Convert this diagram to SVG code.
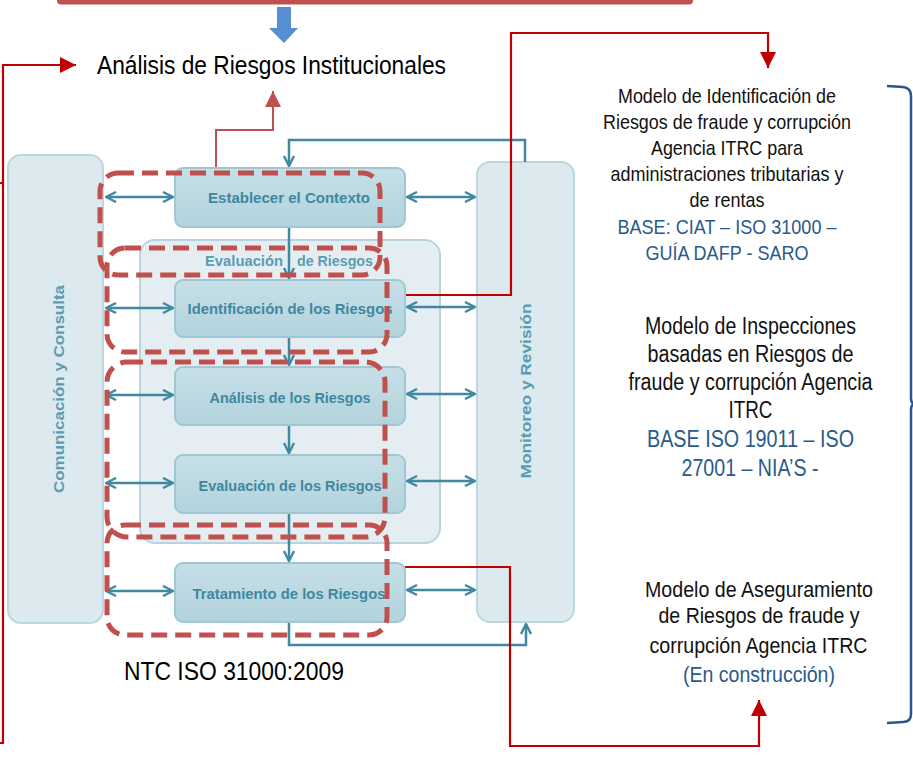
<svg xmlns="http://www.w3.org/2000/svg" width="913" height="758" viewBox="0 0 913 758">
<style>
.panel{fill:#DCE9EE;stroke:#BDD7E0;stroke-width:2}
.inner{fill:#E4EEF2;stroke:#B9D4DD;stroke-width:2}
.box{fill:url(#bg);stroke:#9FC7D4;stroke-width:2}
.btxt{font-family:"Liberation Sans",Arial,sans-serif;font-weight:bold;font-size:15px;fill:#3F88A0;text-anchor:middle}
.ptxt{font-family:"Liberation Sans",Arial,sans-serif;font-weight:bold;font-size:14px;fill:#5A9CB2;text-anchor:middle}
.big{font-family:"Liberation Sans Narrow","Liberation Sans",Arial,sans-serif;fill:#000}
.rt{font-family:"Liberation Sans Narrow","Liberation Sans",Arial,sans-serif;fill:#111;text-anchor:middle}
.blue{fill:#2A5A8A}
.teal{fill:none;stroke:#4189A1;stroke-width:2.5}
.dash{fill:none;stroke:#C0504D;stroke-width:5;stroke-dasharray:16 8}
.red1{fill:none;stroke:#C0504D;stroke-width:2}
.red2{fill:none;stroke:#C00000;stroke-width:2.2}
</style>
<defs>
<linearGradient id="bg" x1="0" y1="0" x2="0" y2="1">
<stop offset="0" stop-color="#C6DFE7"/>
<stop offset="1" stop-color="#B3D3DD"/>
</linearGradient>
<marker id="ta" viewBox="0 0 12 12" refX="11" refY="6" markerWidth="12" markerHeight="12" markerUnits="userSpaceOnUse" orient="auto-start-reverse">
<path d="M1,1 L11,6 L1,11" fill="none" stroke="#4189A1" stroke-width="2.4"/>
</marker>
<marker id="rA" viewBox="0 0 16 16" refX="16" refY="8" markerWidth="16" markerHeight="16" markerUnits="userSpaceOnUse" orient="auto">
<path d="M0,0 L16,8 L0,16 z" fill="#C00000"/>
</marker>
<marker id="rB" viewBox="0 0 16 16" refX="16" refY="8" markerWidth="16" markerHeight="16" markerUnits="userSpaceOnUse" orient="auto">
<path d="M0,0 L16,8 L0,16 z" fill="#C0504D"/>
</marker>
</defs>

<rect x="0" y="0" width="913" height="758" fill="#fff"/>

<g id="topbar">
<rect x="57" y="-10" width="636" height="14.5" rx="4" fill="#C0504D"/>
</g>
<g id="down-arrow">
<polygon points="277,7 291,7 291,28 298,28 284,43 269,28 277,28" fill="#558ED5"/>
</g>

<g id="title">
<text class="big" x="97" y="74" font-size="26" textLength="349" lengthAdjust="spacingAndGlyphs">Análisis de Riesgos Institucionales</text>
</g>

<g id="comunicacion">
<rect class="panel" x="8" y="155" width="95" height="468" rx="13"/>
<text class="ptxt" transform="translate(64,389) rotate(-90)" textLength="208" lengthAdjust="spacingAndGlyphs">Comunicación  y  Consulta</text>
</g>
<g id="monitoreo">
<rect class="panel" x="477" y="162" width="97" height="460" rx="13"/>
<text class="ptxt" transform="translate(531,391) rotate(-90)" textLength="175" lengthAdjust="spacingAndGlyphs">Monitoreo  y  Revisión</text>
</g>
<g id="evaluacion-riesgos">
<rect class="inner" x="140" y="240" width="300" height="303" rx="15"/>
<text class="ptxt" x="244" y="266" textLength="78" lengthAdjust="spacingAndGlyphs">Evaluación</text>
<text class="ptxt" x="335" y="266" textLength="76" lengthAdjust="spacingAndGlyphs">de Riesgos</text>
</g>

<g id="connectors">
<line class="teal" x1="289" y1="227" x2="289" y2="278" marker-end="url(#ta)"/>
<line class="teal" x1="289" y1="337" x2="289" y2="365" marker-end="url(#ta)"/>
<line class="teal" x1="289" y1="425" x2="289" y2="453" marker-end="url(#ta)"/>
<line class="teal" x1="289" y1="513" x2="289" y2="561" marker-end="url(#ta)"/>
<line class="teal" x1="106" y1="197" x2="173" y2="197" marker-start="url(#ta)" marker-end="url(#ta)"/>
<line class="teal" x1="106" y1="308" x2="173" y2="308" marker-start="url(#ta)" marker-end="url(#ta)"/>
<line class="teal" x1="106" y1="395" x2="173" y2="395" marker-start="url(#ta)" marker-end="url(#ta)"/>
<line class="teal" x1="106" y1="483" x2="173" y2="483" marker-start="url(#ta)" marker-end="url(#ta)"/>
<line class="teal" x1="106" y1="591" x2="173" y2="591" marker-start="url(#ta)" marker-end="url(#ta)"/>
<line class="teal" x1="407" y1="197" x2="475" y2="197" marker-start="url(#ta)" marker-end="url(#ta)"/>
<line class="teal" x1="407" y1="307" x2="475" y2="307" marker-start="url(#ta)" marker-end="url(#ta)"/>
<line class="teal" x1="407" y1="394" x2="475" y2="394" marker-start="url(#ta)" marker-end="url(#ta)"/>
<line class="teal" x1="407" y1="481" x2="475" y2="481" marker-start="url(#ta)" marker-end="url(#ta)"/>
<line class="teal" x1="407" y1="590" x2="475" y2="590" marker-start="url(#ta)" marker-end="url(#ta)"/>
<polyline class="teal" points="525,162 525,140 289,140 289,166" marker-end="url(#ta)"/>
<polyline class="teal" points="289,622 289,645 526,645 526,624" marker-end="url(#ta)"/>

<polyline class="red1" points="216,172 216,130 273,130 273,91" marker-end="url(#rB)"/>
<polyline class="red2" points="0,743 3,743 3,65 76,65" marker-end="url(#rA)"/>
<line class="red2" x1="0" y1="183" x2="3" y2="183"/>
<polyline class="red2" points="400,295 511,295 511,33 768,33 768,68" marker-end="url(#rA)"/>
<polyline class="red2" points="405,567 510,567 510,746 759,746 759,700" marker-end="url(#rA)"/>
</g>

<g id="establecer">
<rect class="box" x="175" y="168" width="230" height="59" rx="8"/>
<text class="btxt" x="289" y="203" textLength="162" lengthAdjust="spacingAndGlyphs">Establecer el Contexto</text>
</g>
<g id="identificacion">
<rect class="box" x="175" y="280" width="230" height="57" rx="8"/>
<text class="btxt" x="290" y="314" textLength="205" lengthAdjust="spacingAndGlyphs">Identificación de los Riesgos</text>
</g>
<g id="analisis">
<rect class="box" x="175" y="367" width="230" height="58" rx="8"/>
<text class="btxt" x="290" y="403" textLength="161" lengthAdjust="spacingAndGlyphs">Análisis de los Riesgos</text>
</g>
<g id="evaluacion">
<rect class="box" x="175" y="455" width="230" height="58" rx="8"/>
<text class="btxt" x="290" y="491" textLength="183" lengthAdjust="spacingAndGlyphs">Evaluación de los Riesgos</text>
</g>
<g id="tratamiento">
<rect class="box" x="175" y="563" width="230" height="59" rx="8"/>
<text class="btxt" x="289" y="599" textLength="193" lengthAdjust="spacingAndGlyphs">Tratamiento de los Riesgos</text>
</g>

<g id="dashed-groups">
<rect class="dash" x="100" y="173" width="280" height="102" rx="18"/>
<rect class="dash" x="107" y="248" width="280" height="104" rx="18"/>
<rect class="dash" x="107" y="362" width="278" height="175" rx="20"/>
<rect class="dash" x="107" y="525" width="280" height="110" rx="18"/>
</g>

<g id="ntc">
<text class="big" x="124" y="680" font-size="26" textLength="220" lengthAdjust="spacingAndGlyphs">NTC ISO 31000:2009</text>
</g>

<g id="modelo-identificacion" font-size="21">
<text class="rt" x="727" y="103" textLength="218" lengthAdjust="spacingAndGlyphs">Modelo de Identificación de</text>
<text class="rt" x="727" y="129" textLength="248" lengthAdjust="spacingAndGlyphs">Riesgos de fraude y corrupción</text>
<text class="rt" x="727" y="155" textLength="152" lengthAdjust="spacingAndGlyphs">Agencia ITRC para</text>
<text class="rt" x="727" y="181" textLength="233" lengthAdjust="spacingAndGlyphs">administraciones tributarias y</text>
<text class="rt" x="727" y="207" textLength="75" lengthAdjust="spacingAndGlyphs">de rentas</text>
<text class="rt blue" x="727" y="234" textLength="219" lengthAdjust="spacingAndGlyphs">BASE: CIAT – ISO 31000 –</text>
<text class="rt blue" x="727" y="260" textLength="163" lengthAdjust="spacingAndGlyphs">GUÍA DAFP - SARO</text>
</g>
<g id="modelo-inspecciones" font-size="23">
<text class="rt" x="750.5" y="334" textLength="211" lengthAdjust="spacingAndGlyphs">Modelo de Inspecciones</text>
<text class="rt" x="750.5" y="362" textLength="206" lengthAdjust="spacingAndGlyphs">basadas en Riesgos de</text>
<text class="rt" x="750.5" y="390" textLength="244" lengthAdjust="spacingAndGlyphs">fraude y corrupción Agencia</text>
<text class="rt" x="750.5" y="418" textLength="44" lengthAdjust="spacingAndGlyphs">ITRC</text>
<text class="rt blue" x="750.5" y="447" textLength="207" lengthAdjust="spacingAndGlyphs">BASE ISO 19011 – ISO</text>
<text class="rt blue" x="750" y="476" textLength="137" lengthAdjust="spacingAndGlyphs">27001 – NIA’S -</text>
</g>
<g id="modelo-aseguramiento" font-size="22">
<text class="rt" x="759" y="597" textLength="228" lengthAdjust="spacingAndGlyphs">Modelo de Aseguramiento</text>
<text class="rt" x="759" y="623" textLength="201" lengthAdjust="spacingAndGlyphs">de Riesgos de fraude y</text>
<text class="rt" x="758.5" y="653" textLength="218" lengthAdjust="spacingAndGlyphs">corrupción Agencia ITRC</text>
<text class="rt blue" x="759" y="682" textLength="152" lengthAdjust="spacingAndGlyphs">(En construcción)</text>
</g>

<g id="brace">
<path d="M887,86 L903,87 Q911,88 911,96 L911,398 Q911,404 915,404 M915,404 Q911,404 911,410 L911,714 Q911,722 903,722 L887,723" fill="none" stroke="#2B5590" stroke-width="2.5"/>
</g>
</svg>
